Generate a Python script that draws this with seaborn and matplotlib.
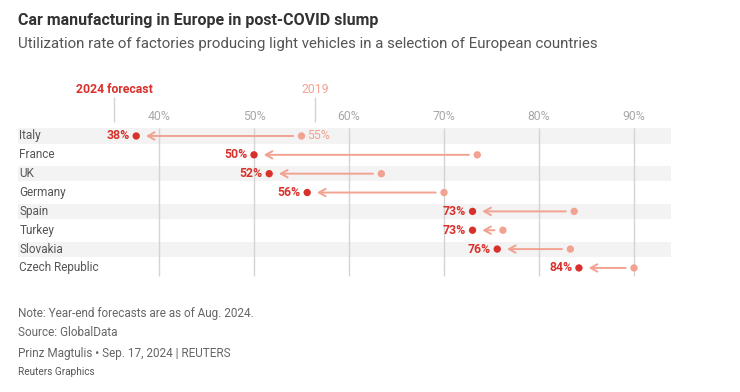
import matplotlib.pyplot as plt
import matplotlib.transforms as mtransforms
import pandas as pd
import seaborn as sns

# Data
countries = ["Italy", "France", "UK", "Germany", "Spain", "Turkey", "Slovakia", "Czech Republic"]
rate_2019 = [55.0, 73.5, 63.4, 70.0, 83.7, 76.2, 83.3, 90.0]
rate_2024 = [37.6, 50.0, 51.6, 55.6, 73.0, 73.0, 75.6, 84.2]
grid_ticks = [40, 50, 60, 70, 80, 90]

df = pd.DataFrame({"country": countries, "y2019": rate_2019, "y2024": rate_2024})
df["row"] = range(len(df))

RED = "#d8312c"
SALMON = "#f2a291"
GRID = "#d4d4d4"
BAND = "#f3f3f3"

sns.set_theme(style="white")
plt.rcParams["font.family"] = ["Roboto", "DejaVu Sans"]

W, H = 740, 392
fig = plt.figure(figsize=(W / 100, H / 100), dpi=100)
ax = fig.add_axes([18 / W, 1 - 280 / H, (671 - 18) / W, 200 / H])

# alternating row bands
for i in df.row[::2]:
    ax.axhspan(i - 0.4, i + 0.4, color=BAND, zorder=0, lw=0)

# gridlines + percent labels
ax.vlines(grid_ticks, -0.42, len(df) - 0.58, color=GRID, lw=1, zorder=1)
for t in grid_ticks:
    ax.text(t, -1.06, f"{t}%", ha="center", va="center", fontsize=8.8, color="#a8a8a8")

# arrows from 2019 to 2024 forecast
for _, r in df.iterrows():
    ax.annotate("", xy=(r.y2024, r.row), xytext=(r.y2019, r.row),
                arrowprops=dict(arrowstyle="->,head_length=0.4,head_width=0.22",
                                color=SALMON, lw=1.4, shrinkA=6, shrinkB=7),
                zorder=2)

sns.scatterplot(data=df, x="y2019", y="row", color=SALMON, s=28, edgecolor="none", ax=ax, zorder=3)
sns.scatterplot(data=df, x="y2024", y="row", color=RED, s=28, edgecolor="none", ax=ax, zorder=3)

# value labels
for _, r in df.iterrows():
    ax.annotate(f"{r.y2024:.0f}%", xy=(r.y2024, r.row), xytext=(-4.5, 0), textcoords="offset points",
                ha="right", va="center", fontsize=8.8, fontweight="bold", color=RED)
ax.annotate(f"{df.y2019[0]:.0f}%", xy=(df.y2019[0], 0), xytext=(4, 0), textcoords="offset points",
            ha="left", va="center", fontsize=8.8, color=SALMON)

# country names
trans = mtransforms.blended_transform_factory(ax.transAxes, ax.transData)
for _, r in df.iterrows():
    ax.text(0.002, r.row, r.country, transform=trans, ha="left", va="center",
            fontsize=8.5, color="#555555")

# series headers with leader lines
ax.vlines([35.3, 56.4], -2.07, -0.74, color=GRID, lw=1)
ax.text(35.3, -2.49, "2024 forecast", ha="center", va="center", fontsize=8.8,
        fontweight="bold", color=RED)
ax.text(56.4, -2.49, "2019", ha="center", va="center", fontsize=8.8, color=SALMON)

ax.set_xlim(25.16, 93.89)
ax.set_ylim(7.64, -2.97)
ax.axis("off")

# titles and footer
fig.text(18 / W, 1 - 20 / H, "Car manufacturing in Europe in post-COVID slump", ha="left", va="center",
         fontsize=11.5, fontweight="bold", color="#333333")
fig.text(18 / W, 1 - 44 / H, "Utilization rate of factories producing light vehicles in a selection of European countries",
         ha="left", va="center", fontsize=10.8, color="#555555")
fig.text(18 / W, 1 - 313 / H, "Note: Year-end forecasts are as of Aug. 2024.", ha="left", va="center",
         fontsize=8.5, color="#666666")
fig.text(18 / W, 1 - 333 / H, "Source: GlobalData", ha="left", va="center", fontsize=8.5, color="#666666")
fig.text(18 / W, 1 - 353 / H, "Prinz Magtulis \u2022 Sep. 17, 2024 | REUTERS", ha="left", va="center",
         fontsize=8.5, color="#666666")
fig.text(18 / W, 1 - 372 / H, "Reuters Graphics", ha="left", va="center", fontsize=7.2, color="#555555")

fig.savefig("out.png", dpi=100, facecolor="white")
